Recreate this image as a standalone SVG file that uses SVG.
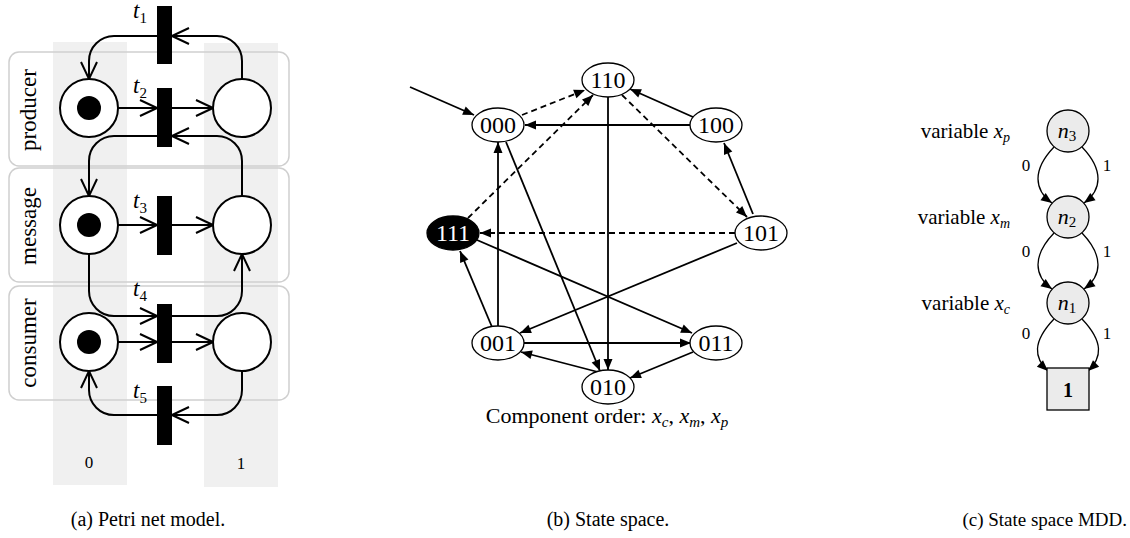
<svg xmlns="http://www.w3.org/2000/svg" width="1130" height="538" viewBox="0 0 1130 538">
<style>
text{font-family:"Liberation Serif","Times New Roman",serif;fill:#000}
.it{font-style:italic}
.col{fill:#f0f0f0}
.box{fill:none;stroke:#cfcfcf;stroke-width:1.5}
.place{fill:#fff;stroke:#000;stroke-width:2}
.tok{fill:#000}
.tr{fill:#000}
.arc{fill:none;stroke:#000;stroke-width:2;marker-end:url(#open)}
.st{fill:#fff;stroke:#000;stroke-width:1.3}
.e{fill:none;stroke:#000;stroke-width:1.8;marker-end:url(#fill)}
.d{stroke-dasharray:6,4}
.md{fill:#ebebeb;stroke:#000;stroke-width:1.3}
.me{fill:none;stroke:#000;stroke-width:1.3;marker-end:url(#mfill)}
.tl{font-size:23px;text-anchor:middle;font-style:italic}
.sn{font-size:24px;text-anchor:middle}
</style>
<defs>
<marker id="open" markerUnits="userSpaceOnUse" viewBox="-18 -10 20 20" refX="0" refY="0" markerWidth="20" markerHeight="20" orient="auto">
<path d="M-17,-8 L0,0 L-17,8" fill="none" stroke="#000" stroke-width="2"/>
</marker>
<marker id="fill" markerUnits="userSpaceOnUse" viewBox="-12 -6 13 12" refX="0" refY="0" markerWidth="13" markerHeight="12" orient="auto">
<path d="M-11,-4.5 L0,0 L-11,4.5 z" fill="#000"/>
</marker>
<marker id="mfill" markerUnits="userSpaceOnUse" viewBox="-12 -6 13 12" refX="0" refY="0" markerWidth="13" markerHeight="12" orient="auto">
<path d="M-11,-4.5 L0,0 L-11,4.5 z" fill="#000"/>
</marker>
</defs>

<!-- (a) Petri net -->
<g id="columns">
<rect class="col" x="53" y="42" width="74" height="443"/>
<rect class="col" x="204" y="43" width="74" height="444"/>
<text x="89" y="468" font-size="17" text-anchor="middle">0</text>
<text x="241" y="469" font-size="17" text-anchor="middle">1</text>
</g>
<g id="component-boxes">
<rect class="box" x="9" y="52" width="280" height="114" rx="10"/>
<rect class="box" x="9" y="168" width="280" height="114" rx="10"/>
<rect class="box" x="9" y="286" width="280" height="114" rx="10"/>
<text font-size="23" text-anchor="middle" transform="translate(36,110) rotate(-90)">producer</text>
<text font-size="23" text-anchor="middle" transform="translate(36,226) rotate(-90)">message</text>
<text font-size="23" text-anchor="middle" transform="translate(36,343) rotate(-90)">consumer</text>
</g>
<g id="petri-arcs">
<path class="arc" d="M242,79 V61 A25,25 0 0 0 217,36 H172"/>
<path class="arc" d="M157,36 H114 A25,25 0 0 0 89,61 V79"/>
<path class="arc" d="M118,108 H157"/>
<path class="arc" d="M172,108 H213"/>
<path class="arc" d="M242,196 V161 A25,25 0 0 0 217,136 H172"/>
<path class="arc" d="M157,136 H114 A25,25 0 0 0 89,161 V196"/>
<path class="arc" d="M118,225 H157"/>
<path class="arc" d="M172,225 H213"/>
<path class="arc" d="M89,254 V291 A25,25 0 0 0 114,316 H157"/>
<path class="arc" d="M172,316 H217 A25,25 0 0 0 242,291 V254"/>
<path class="arc" d="M118,342 H157"/>
<path class="arc" d="M172,342 H213"/>
<path class="arc" d="M242,371 V390 A25,25 0 0 1 217,415 H172"/>
<path class="arc" d="M157,415 H114 A25,25 0 0 1 89,390 V371"/>
</g>
<g id="p-producer-0"><circle class="place" cx="89" cy="108" r="29"/><circle class="tok" cx="89" cy="108" r="12"/></g>
<g id="p-producer-1"><circle class="place" cx="242" cy="108" r="29"/></g>
<g id="p-message-0"><circle class="place" cx="89" cy="225" r="29"/><circle class="tok" cx="89" cy="225" r="12"/></g>
<g id="p-message-1"><circle class="place" cx="242" cy="225" r="29"/></g>
<g id="p-consumer-0"><circle class="place" cx="89" cy="342" r="29"/><circle class="tok" cx="89" cy="342" r="12"/></g>
<g id="p-consumer-1"><circle class="place" cx="242" cy="342" r="29"/></g>
<g id="t1"><rect class="tr" x="157" y="6" width="15" height="58"/><text class="tl" x="140" y="18">t<tspan font-style="normal" font-size="15" dy="5">1</tspan></text></g>
<g id="t2"><rect class="tr" x="157" y="88" width="15" height="59"/><text class="tl" x="140" y="93">t<tspan font-style="normal" font-size="15" dy="5">2</tspan></text></g>
<g id="t3"><rect class="tr" x="157" y="196" width="15" height="59"/><text class="tl" x="140" y="208">t<tspan font-style="normal" font-size="15" dy="5">3</tspan></text></g>
<g id="t4"><rect class="tr" x="157" y="304" width="15" height="59"/><text class="tl" x="140" y="296">t<tspan font-style="normal" font-size="15" dy="5">4</tspan></text></g>
<g id="t5"><rect class="tr" x="157" y="386" width="15" height="59"/><text class="tl" x="140" y="398">t<tspan font-style="normal" font-size="15" dy="5">5</tspan></text></g>
<text x="148" y="526" font-size="20" text-anchor="middle">(a) Petri net model.</text>

<!-- (b) State space -->
<g id="ss-connectors">
<path class="e" d="M410,87 L474,115"/>
<path class="e d" d="M522,115 L585,90"/>
<path class="e d" d="M468,218 L593,95"/>
<path class="e" d="M693,117 L630,89"/>
<path class="e" d="M690,125 L525,125"/>
<path class="e d" d="M622,95 L747,217"/>
<path class="e" d="M753,214 L724,143"/>
<path class="e" d="M608,97 L608,370"/>
<path class="e" d="M498,326 L498,142"/>
<path class="e" d="M506,142 L600,371"/>
<path class="e d" d="M735,233 L480,233"/>
<path class="e" d="M737,243 L520,333"/>
<path class="e" d="M477,240 L692,333"/>
<path class="e" d="M492,327 L460,251"/>
<path class="e" d="M524,343 L691,343"/>
<path class="e" d="M598,372 L521,352"/>
<path class="e" d="M693,352 L630,378"/>
</g>
<g id="s000"><ellipse class="st" cx="498" cy="125" rx="26" ry="17"/><text class="sn" x="498" y="133">000</text></g>
<g id="s110"><ellipse class="st" cx="608" cy="80" rx="26" ry="17"/><text class="sn" x="608" y="88">110</text></g>
<g id="s100"><ellipse class="st" cx="716" cy="125" rx="26" ry="17"/><text class="sn" x="716" y="133">100</text></g>
<g id="s111"><ellipse cx="453" cy="233" rx="26" ry="17" fill="#000" stroke="#000" stroke-width="1.3"/><text class="sn" x="453" y="241" style="fill:#fff">111</text></g>
<g id="s101"><ellipse class="st" cx="761" cy="233" rx="26" ry="17"/><text class="sn" x="761" y="241">101</text></g>
<g id="s001"><ellipse class="st" cx="498" cy="343" rx="26" ry="17"/><text class="sn" x="498" y="351">001</text></g>
<g id="s011"><ellipse class="st" cx="716" cy="343" rx="26" ry="17"/><text class="sn" x="716" y="351">011</text></g>
<g id="s010"><ellipse class="st" cx="608" cy="387" rx="26" ry="17"/><text class="sn" x="608" y="395">010</text></g>
<text x="607" y="423" font-size="22" text-anchor="middle">Component order: <tspan class="it">x</tspan><tspan class="it" font-size="15" dy="4">c</tspan><tspan dy="-4">, </tspan><tspan class="it">x</tspan><tspan class="it" font-size="15" dy="4">m</tspan><tspan dy="-4">, </tspan><tspan class="it">x</tspan><tspan class="it" font-size="15" dy="4">p</tspan></text>
<text x="608" y="526" font-size="20" text-anchor="middle">(b) State space.</text>

<!-- (c) MDD -->
<g id="mdd-connectors">
<path class="me" d="M1054,147 C1032,170 1034,190 1052,203"/>
<path class="me" d="M1082,147 C1104,170 1102,190 1084,203"/>
<path class="me" d="M1054,233 C1032,256 1034,276 1052,289"/>
<path class="me" d="M1082,233 C1104,256 1102,276 1084,289"/>
<path class="me" d="M1054,319 C1032,342 1034,358 1048,371"/>
<path class="me" d="M1082,319 C1104,342 1102,358 1088,371"/>
<text x="1026" y="171" font-size="17" text-anchor="middle">0</text>
<text x="1107" y="171" font-size="17" text-anchor="middle">1</text>
<text x="1026" y="257" font-size="17" text-anchor="middle">0</text>
<text x="1107" y="257" font-size="17" text-anchor="middle">1</text>
<text x="1026" y="339" font-size="17" text-anchor="middle">0</text>
<text x="1107" y="339" font-size="17" text-anchor="middle">1</text>
</g>
<g id="n3"><circle class="md" cx="1068" cy="131" r="21"/><text x="1067" y="138" font-size="22" text-anchor="middle"><tspan class="it">n</tspan><tspan font-size="15" dy="3">3</tspan></text></g>
<g id="n2"><circle class="md" cx="1068" cy="217" r="21"/><text x="1067" y="224" font-size="22" text-anchor="middle"><tspan class="it">n</tspan><tspan font-size="15" dy="3">2</tspan></text></g>
<g id="n1"><circle class="md" cx="1068" cy="303" r="21"/><text x="1067" y="310" font-size="22" text-anchor="middle"><tspan class="it">n</tspan><tspan font-size="15" dy="3">1</tspan></text></g>
<g id="terminal-1"><rect class="md" x="1047" y="368" width="42" height="42"/><text x="1068" y="397" font-size="20" font-weight="bold" text-anchor="middle">1</text></g>
<g id="mdd-levels">
<text x="1010" y="138" font-size="21" text-anchor="end">variable <tspan class="it">x</tspan><tspan class="it" font-size="14" dy="4">p</tspan></text>
<text x="1010" y="224" font-size="21" text-anchor="end">variable <tspan class="it">x</tspan><tspan class="it" font-size="14" dy="4">m</tspan></text>
<text x="1010" y="310" font-size="21" text-anchor="end">variable <tspan class="it">x</tspan><tspan class="it" font-size="14" dy="4">c</tspan></text>
</g>
<text x="1127" y="526" font-size="19" text-anchor="end">(c) State space MDD.</text>
</svg>
